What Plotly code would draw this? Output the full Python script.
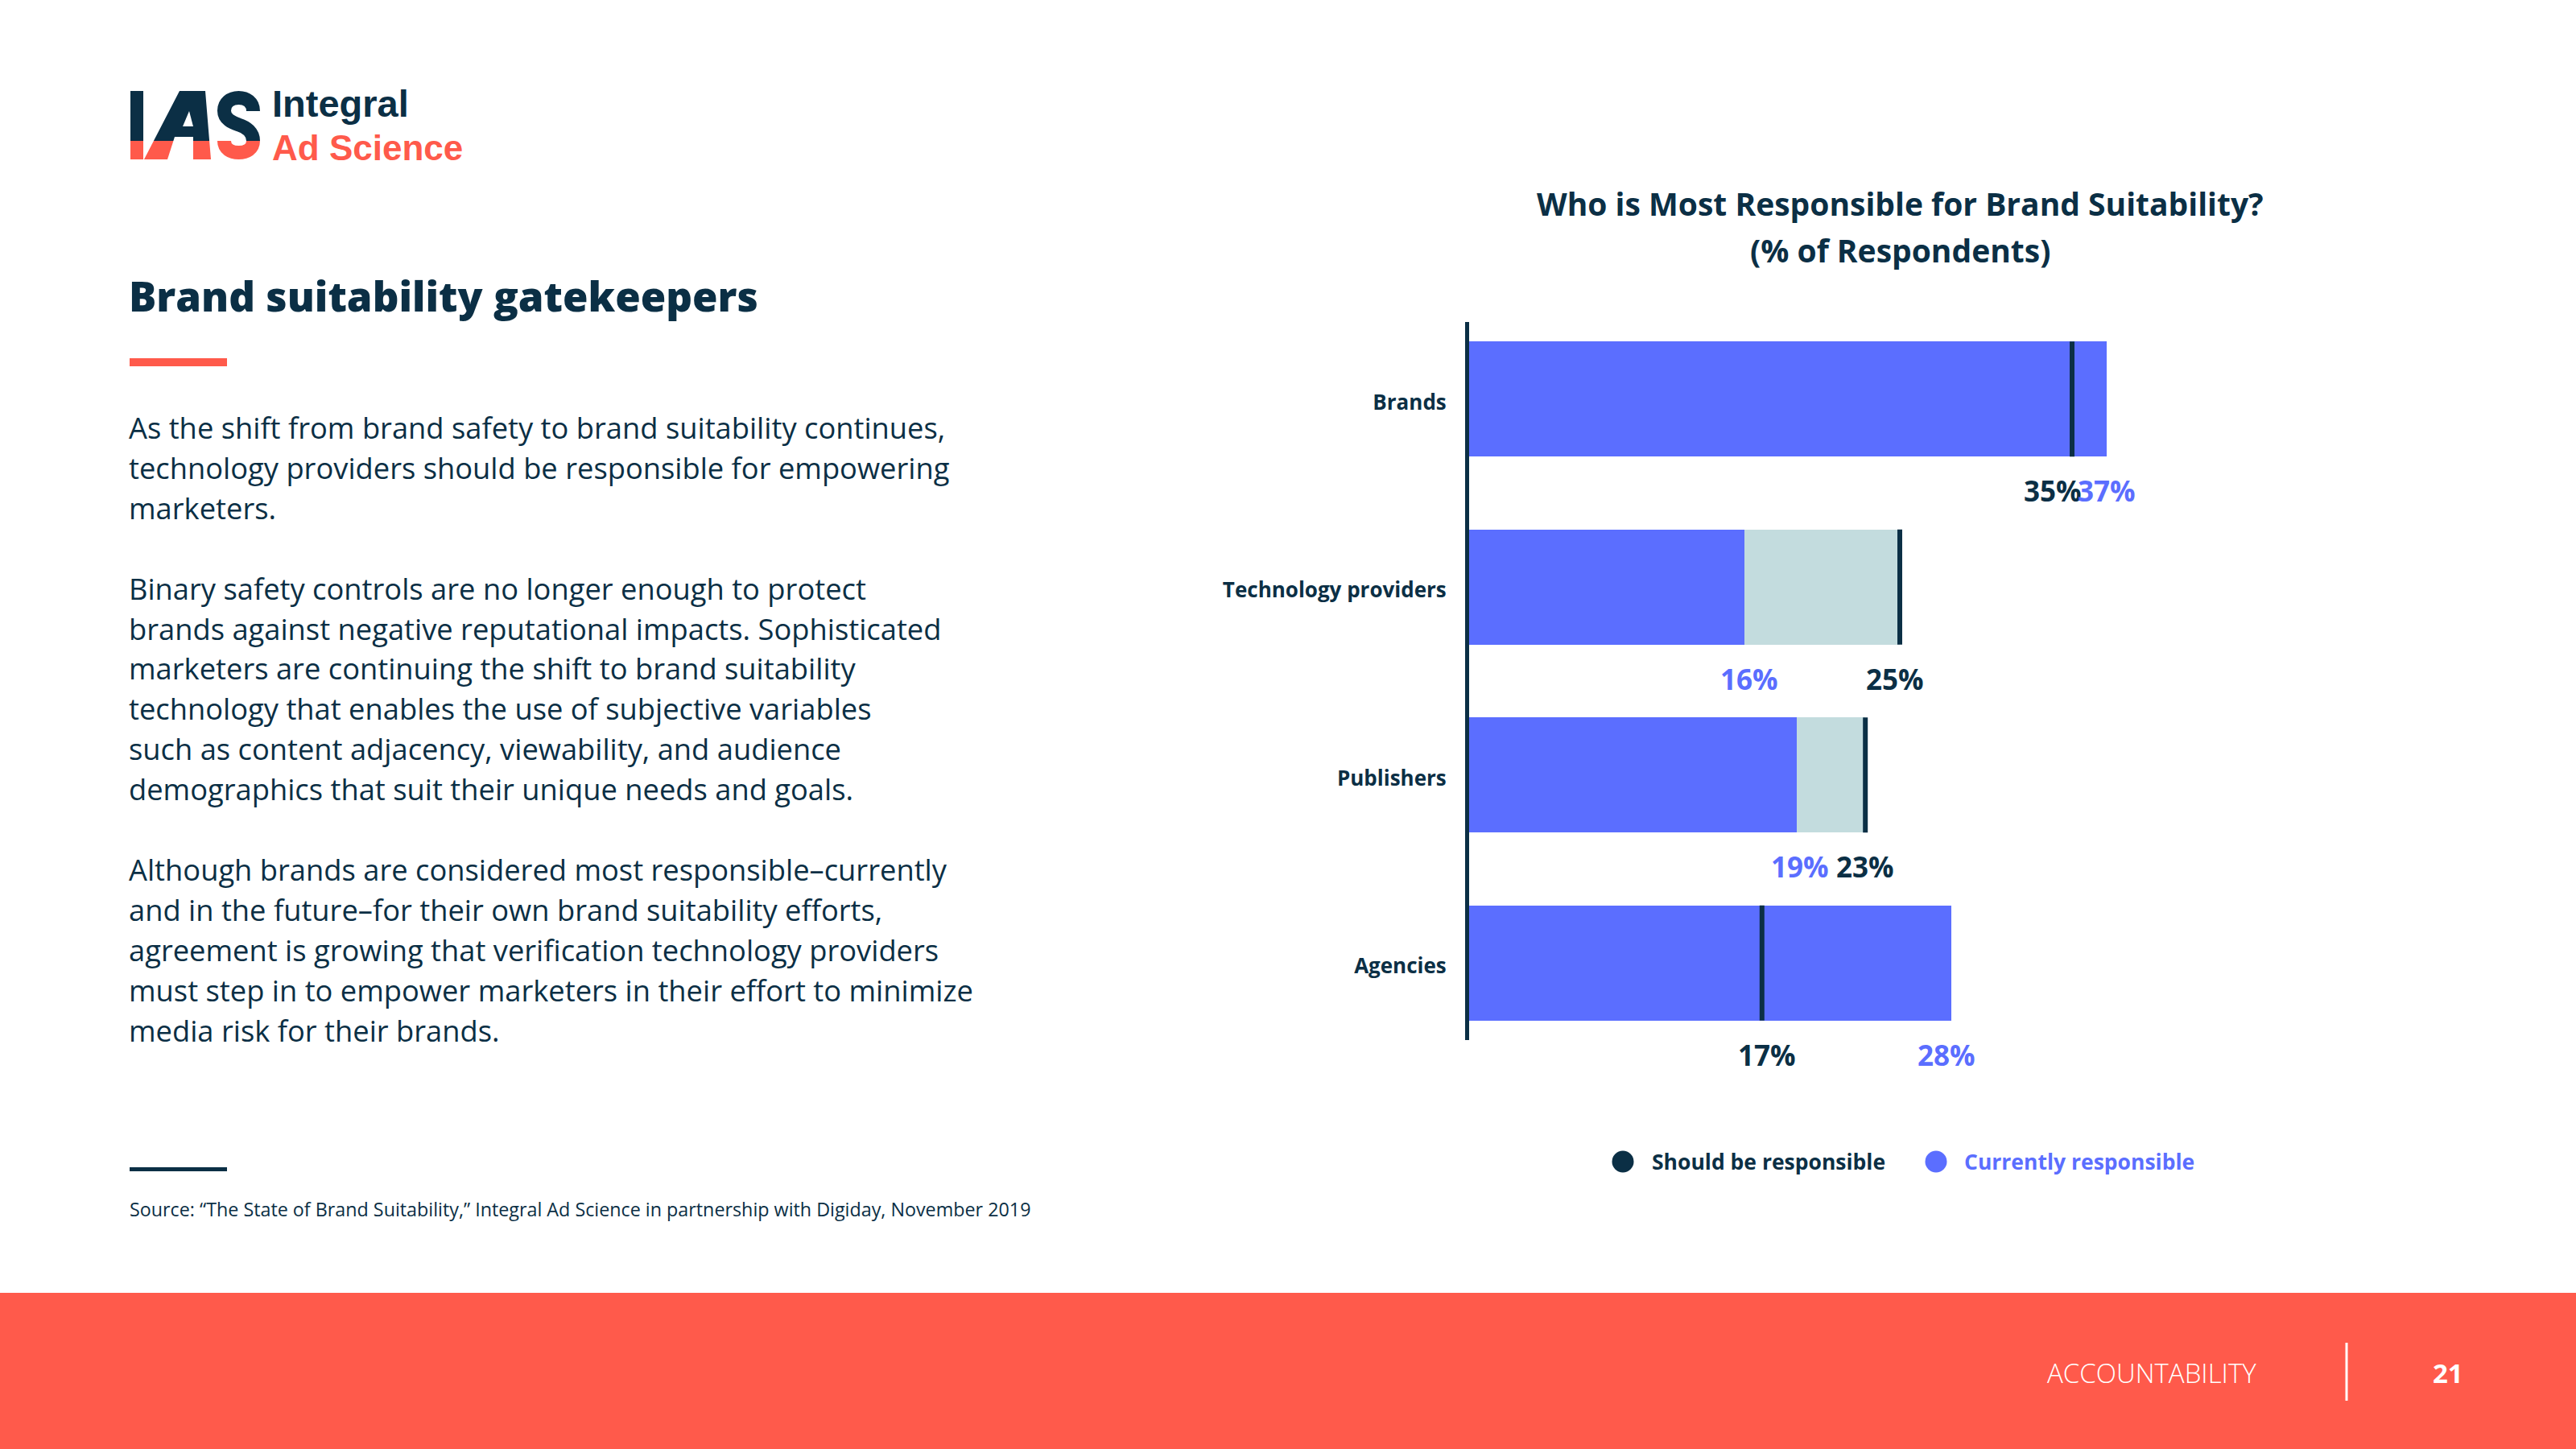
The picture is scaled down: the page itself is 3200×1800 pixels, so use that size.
import plotly.graph_objects as go

# ---------------- data ----------------
categories = ["Brands", "Technology providers", "Publishers", "Agencies"]
currently = [37, 16, 19, 28]
should = [35, 25, 23, 17]
label_xshift_should = [-24, -6, 0, 6]
label_xshift_current = [0, 6, 4, -6]

legend_names = ["Should be responsible", "Currently responsible"]
chart_title = ["Who is Most Responsible for Brand Suitability?", "(% of Respondents)"]

logo_words = ["Integral", "Ad Science"]
heading = "Brand suitability gatekeepers"
body_lines = [
    "As the shift from brand safety to brand suitability continues,",
    "technology providers should be responsible for empowering",
    "marketers.",
    "",
    "Binary safety controls are no longer enough to protect",
    "brands against negative reputational impacts. Sophisticated",
    "marketers are continuing the shift to brand suitability",
    "technology that enables the use of subjective variables",
    "such as content adjacency, viewability, and audience",
    "demographics that suit their unique needs and goals.",
    "",
    "Although brands are considered most responsible\u2013currently",
    "and in the future\u2013for their own brand suitability efforts,",
    "agreement is growing that verification technology providers",
    "must step in to empower marketers in their effort to minimize",
    "media risk for their brands.",
]
source_text = ("Source: \u201cThe State of Brand Suitability,\u201d Integral Ad Science in "
               "partnership with Digiday, November 2019")
footer_section = "ACCOUNTABILITY"
page_number = "21"

# ---------------- style ----------------
W, H = 3200, 1800
NAVY = "#0B2F45"
BLUE = "#5B6EFF"
LIGHT = "#C3DCDE"
CORAL = "#FF5A4B"
BODY_FONT = "Open Sans"
LOGO_FONT = "Liberation Sans"


def px(x):
    return x / W


def py(y):
    return 1 - y / H


def pt(x, y):
    return f"{px(x):.5f},{py(y):.5f}"


def poly(points):
    return "M" + " L".join(pt(x, y) for x, y in points) + " Z"


fig = go.Figure()

gap = [max(s - c, 0) for s, c in zip(should, currently)]

fig.add_trace(go.Bar(
    y=categories, x=currently, orientation="h", width=0.612,
    marker=dict(color=BLUE, line=dict(width=0)), name=legend_names[1],
    showlegend=False, hoverinfo="x+y",
))
fig.add_trace(go.Bar(
    y=categories, x=gap, base=currently, orientation="h", width=0.612,
    marker=dict(color=LIGHT, line=dict(width=0)), showlegend=False,
    hoverinfo="skip",
))
fig.add_trace(go.Scatter(
    y=categories, x=should, mode="markers", name=legend_names[0],
    marker=dict(symbol="line-ns", size=102, color=NAVY,
                line=dict(width=6, color=NAVY)),
    showlegend=False, cliponaxis=False,
))

annotations = []
# value labels below each bar
for i, cat in enumerate(categories):
    annotations.append(dict(
        x=should[i], y=cat, xref="x", yref="y", text=f"{should[i]}%",
        showarrow=False, yshift=-114, xshift=label_xshift_should[i],
        font=dict(family=BODY_FONT, size=35, color=NAVY, weight=700),
        xanchor="center", yanchor="middle"))
    annotations.append(dict(
        x=currently[i], y=cat, xref="x", yref="y", text=f"{currently[i]}%",
        showarrow=False, yshift=-114, xshift=label_xshift_current[i],
        font=dict(family=BODY_FONT, size=35, color=BLUE, weight=700),
        xanchor="center", yanchor="middle"))

# chart title
for txt, yy in zip(chart_title, [253, 310]):
    annotations.append(dict(
        x=px(2360), y=py(yy), xref="paper", yref="paper", text=txt,
        showarrow=False, xanchor="center", yanchor="middle",
        font=dict(family=BODY_FONT, size=39, color=NAVY, weight=700)))

# legend texts
annotations.append(dict(
    x=px(2050), y=py(1443), xref="paper", yref="paper", text=legend_names[0],
    showarrow=False, xanchor="left", yanchor="middle",
    font=dict(family=BODY_FONT, size=26.5, color=NAVY, weight=700)))
annotations.append(dict(
    x=px(2438), y=py(1443), xref="paper", yref="paper", text=legend_names[1],
    showarrow=False, xanchor="left", yanchor="middle",
    font=dict(family=BODY_FONT, size=26.5, color=BLUE, weight=700)))

# logo words
annotations.append(dict(
    x=px(336), y=py(129), xref="paper", yref="paper", text=logo_words[0],
    showarrow=False, xanchor="left", yanchor="middle",
    font=dict(family=LOGO_FONT, size=47, color=NAVY, weight=700)))
annotations.append(dict(
    x=px(336), y=py(183.5), xref="paper", yref="paper", text=logo_words[1],
    showarrow=False, xanchor="left", yanchor="middle",
    font=dict(family=LOGO_FONT, size=44, color=CORAL, weight=700)))

# heading
annotations.append(dict(
    x=px(158), y=py(367), xref="paper", yref="paper", text=heading,
    showarrow=False, xanchor="left", yanchor="middle",
    font=dict(family=BODY_FONT, size=51, color=NAVY, weight=800)))

# body lines
for k, line in enumerate(body_lines):
    if not line:
        continue
    annotations.append(dict(
        x=px(158), y=py(531 + 49.9 * k), xref="paper", yref="paper", text=line,
        showarrow=False, xanchor="left", yanchor="middle",
        font=dict(family=BODY_FONT, size=36.3, color=NAVY, weight=400)))

# source
annotations.append(dict(
    x=px(159), y=py(1502), xref="paper", yref="paper", text=source_text,
    showarrow=False, xanchor="left", yanchor="middle",
    font=dict(family=BODY_FONT, size=23.3, color=NAVY, weight=400)))

# footer
annotations.append(dict(
    x=px(2541), y=py(1705), xref="paper", yref="paper", text=footer_section,
    showarrow=False, xanchor="left", yanchor="middle",
    font=dict(family=BODY_FONT, size=33, color="white", weight=300)))
annotations.append(dict(
    x=px(3041), y=py(1705), xref="paper", yref="paper", text=page_number,
    showarrow=False, xanchor="center", yanchor="middle",
    font=dict(family=BODY_FONT, size=33, color="white", weight=700)))

shapes = []
# footer band
shapes.append(dict(type="rect", xref="paper", yref="paper", x0=0, x1=1,
                   y0=0, y1=py(1606), fillcolor=CORAL, line=dict(width=0),
                   layer="below"))
shapes.append(dict(type="line", xref="paper", yref="paper", x0=px(2915), x1=px(2915),
                   y0=py(1668), y1=py(1740), line=dict(color="white", width=3)))
# coral underline under heading
shapes.append(dict(type="rect", xref="paper", yref="paper", x0=px(161), x1=px(282),
                   y0=py(455), y1=py(445), fillcolor=CORAL, line=dict(width=0)))
# navy rule above source
shapes.append(dict(type="rect", xref="paper", yref="paper", x0=px(161), x1=px(282),
                   y0=py(1455), y1=py(1450), fillcolor=NAVY, line=dict(width=0)))
# legend dots
for cx, col in [(2016, NAVY), (2405, BLUE)]:
    shapes.append(dict(type="circle", xref="paper", yref="paper",
                       x0=px(cx - 13.5), x1=px(cx + 13.5), y0=py(1456.5), y1=py(1429.5),
                       fillcolor=col, line=dict(width=0)))

# logo "IAS" (navy top, coral bottom)
SPLIT = 175
shapes.append(dict(type="path", xref="paper", yref="paper",
                   path=poly([(162, 113), (178, 113), (178, SPLIT), (162, SPLIT)]),
                   fillcolor=NAVY, line=dict(width=0)))
shapes.append(dict(type="path", xref="paper", yref="paper",
                   path=poly([(162, SPLIT), (178, SPLIT), (178, 198), (162, 198)]),
                   fillcolor=CORAL, line=dict(width=0)))
shapes.append(dict(type="path", xref="paper", yref="paper",
                   path=poly([(223, 113), (255, 113), (260.1, SPLIT), (240, SPLIT),
                              (240, 170), (217, 170), (215.4, SPLIT), (190.9, SPLIT)]),
                   fillcolor=NAVY, line=dict(width=0)))
shapes.append(dict(type="path", xref="paper", yref="paper",
                   path=poly([(190.9, SPLIT), (215.4, SPLIT), (208, 198), (179, 198)]),
                   fillcolor=CORAL, line=dict(width=0)))
shapes.append(dict(type="path", xref="paper", yref="paper",
                   path=poly([(240, SPLIT), (260.1, SPLIT), (262, 198), (240, 198)]),
                   fillcolor=CORAL, line=dict(width=0)))
shapes.append(dict(type="path", xref="paper", yref="paper",
                   path=poly([(235, 138), (240, 157), (227, 157)]),
                   fillcolor="white", line=dict(width=0)))
s_top = ("M" + pt(314.5, 138) + " C" + pt(314.5, 127) + " " + pt(306, 121.5) + " " + pt(296.5, 121.5)
         + " C" + pt(286, 121.5) + " " + pt(278.5, 128) + " " + pt(278.5, 137.5)
         + " C" + pt(278.5, 148) + " " + pt(288, 152) + " " + pt(296.5, 155)
         + " C" + pt(306, 158) + " " + pt(314.5, 164) + " " + pt(314.5, SPLIT))
s_bot = ("M" + pt(314.5, SPLIT) + " C" + pt(314.5, 185) + " " + pt(306, 189.5) + " " + pt(296.5, 189.5)
         + " C" + pt(287, 189.5) + " " + pt(278.5, 185) + " " + pt(278.5, SPLIT))
shapes.append(dict(type="path", xref="paper", yref="paper", path=s_top,
                   line=dict(color=NAVY, width=17)))
shapes.append(dict(type="path", xref="paper", yref="paper", path=s_bot,
                   line=dict(color=CORAL, width=17)))

fig.update_layout(
    width=W, height=H,
    margin=dict(l=0, r=0, t=0, b=0),
    paper_bgcolor="white", plot_bgcolor="white",
    barmode="overlay", bargap=0,
    showlegend=False,
    xaxis=dict(domain=[px(1825), px(2681)], range=[0, 40], visible=False,
               fixedrange=True),
    yaxis=dict(domain=[py(1292), py(400)], type="category",
               categoryorder="array", categoryarray=categories,
               range=[3.41, -0.41], autorange=False,
               showline=True, linecolor=NAVY, linewidth=5,
               showgrid=False, zeroline=False, ticks="",
               ticklabelstandoff=18, ticklabelshift=-4,
               tickfont=dict(family=BODY_FONT, size=26, color=NAVY, weight=700),
               fixedrange=True),
    annotations=annotations,
    shapes=shapes,
)

fig.write_html(
    "out.html",
    config={"displayModeBar": False},
    post_script="document.body.style.margin='0';document.body.style.overflow='hidden';",
)
